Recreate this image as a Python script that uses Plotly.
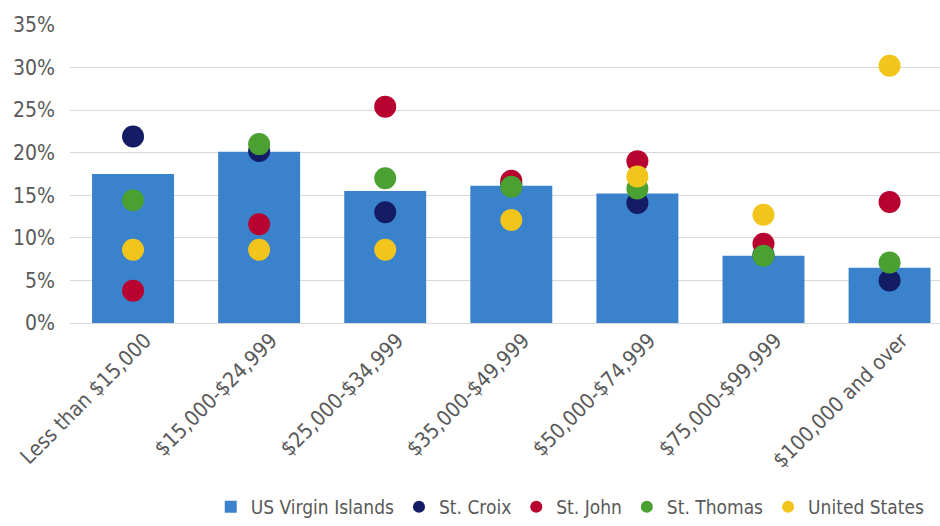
import plotly.graph_objects as go

categories = [
    "Less than $15,000",
    "$15,000-$24,999",
    "$25,000-$34,999",
    "$35,000-$49,999",
    "$50,000-$74,999",
    "$75,000-$99,999",
    "$100,000 and over",
]

# Share of households by income bracket (fractions)
us_virgin_islands = [0.175, 0.201, 0.155, 0.161, 0.152, 0.079, 0.065]
st_croix = [0.219, 0.202, 0.130, 0.163, 0.141, 0.080, 0.050]
st_john = [0.038, 0.116, 0.254, 0.167, 0.190, 0.093, 0.142]
st_thomas = [0.144, 0.210, 0.170, 0.160, 0.158, 0.079, 0.071]
united_states = [0.086, 0.086, 0.086, 0.121, 0.172, 0.127, 0.302]

tick_vals = [0, 0.05, 0.10, 0.15, 0.20, 0.25, 0.30, 0.35]

FONT = "DejaVu Sans Condensed, Liberation Sans Narrow, sans-serif"
TEXT_COLOR = "#595959"

fig = go.Figure()

fig.add_trace(go.Bar(
    x=categories, y=us_virgin_islands, name="US Virgin Islands",
    marker=dict(color="#3b82cc", line=dict(width=0)), width=0.65,
))

dot_series = [
    ("St. Croix", st_croix, "#141c66"),
    ("St. John", st_john, "#b8022f"),
    ("St. Thomas", st_thomas, "#4aa132"),
    ("United States", united_states, "#f2c51c"),
]
for name, vals, color in dot_series:
    fig.add_trace(go.Scatter(
        x=categories, y=vals, name=name, mode="markers",
        marker=dict(color=color, size=22, line=dict(width=0)),
    ))

fig.update_layout(
    width=940, height=526,
    margin=dict(l=70, r=0, t=24, b=203, autoexpand=False),
    paper_bgcolor="white", plot_bgcolor="white",
    font=dict(family=FONT, color=TEXT_COLOR, size=20),
    showlegend=True,
    legend=dict(
        orientation="h", x=0.575, xanchor="center",
        yref="container", y=0.0, yanchor="bottom",
        font=dict(size=19, color=TEXT_COLOR), itemsizing="constant",
        traceorder="normal", itemwidth=30, tracegroupgap=0,
    ),
    bargap=0.35,
)

fig.update_xaxes(
    range=[-0.5, 6.4], tickangle=-45, showgrid=False, zeroline=False,
    showline=False, automargin=False, ticklabelshift=12,
    tickfont=dict(size=21, color=TEXT_COLOR),
)
fig.update_yaxes(
    range=[0, 0.351], tickvals=tick_vals, tickformat=".0%",
    showgrid=True, gridcolor="#d9d9d9", gridwidth=1,
    zeroline=True, zerolinecolor="#d9d9d9", zerolinewidth=1,
    automargin=False,
    tickfont=dict(size=21, color=TEXT_COLOR), ticklabelstandoff=14,
)

fig.write_html("out.html")
